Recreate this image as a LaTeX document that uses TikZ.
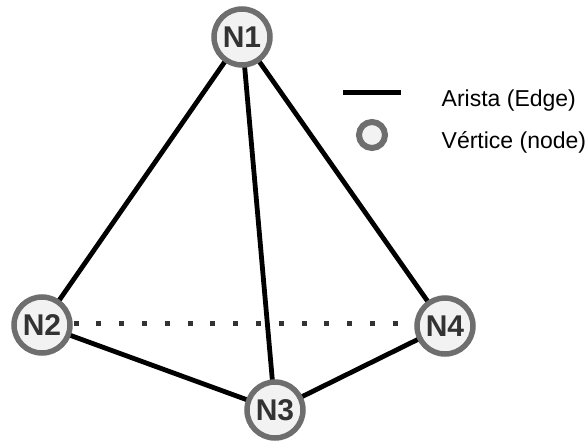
\documentclass[tikz,border=0pt]{standalone}
\usepackage{fontspec}
\setmainfont{Liberation Sans}
\definecolor{ring}{HTML}{6E6E6E}
\definecolor{fillg}{HTML}{F2F2F2}
\definecolor{txt}{HTML}{333333}
\begin{document}
\begin{tikzpicture}[x=1pt,y=-1pt,
  vert/.style={circle,draw=ring,fill=fillg,line width=5.5pt,minimum size=56pt,inner sep=0pt,
    font=\fontsize{30}{32}\selectfont\bfseries,text=txt},
  edge/.style={line width=4.8pt,black},
  dotedge/.style={line width=5pt,txt,dash pattern=on 5pt off 17.8pt},
  legtext/.style={anchor=base west,font=\fontsize{23}{26}\selectfont,text=black,inner sep=0pt}]
\useasboundingbox (0,0) rectangle (587,442);
\coordinate (n1c) at (242,37);
\coordinate (n2c) at (42,325);
\coordinate (n3c) at (275,410);
\coordinate (n4c) at (445,326);
% edges first
\draw[edge] (n1c) -- (n2c);
\draw[edge] (n1c) -- (n3c);
\draw[edge] (n1c) -- (n4c);
\draw[edge] (n2c) -- (n3c);
\draw[edge] (n3c) -- (n4c);
\coordinate (ds) at (73.5,323);
\coordinate (de) at (402,323);
\draw[dotedge] (ds) -- (de);
\node[vert] (N1) at (n1c) {N1};
\node[vert] (N2) at (n2c) {N2};
\node[vert] (N3) at (n3c) {N3};
\node[vert] (N4) at (n4c) {N4};
% legend
\coordinate (la) at (343,92.5);
\coordinate (lb) at (401,92.5);
\draw[line width=5pt,black] (la) -- (lb);
\node[circle,draw=ring,fill=fillg,line width=6pt,minimum size=26pt,inner sep=0pt] (LC) at (372,135) {};
\node[legtext] (L1) at (441.5,106) {Arista (Edge)};
\node[legtext] (L2) at (441.5,148) {Vértice (node)};
\end{tikzpicture}
\end{document}
